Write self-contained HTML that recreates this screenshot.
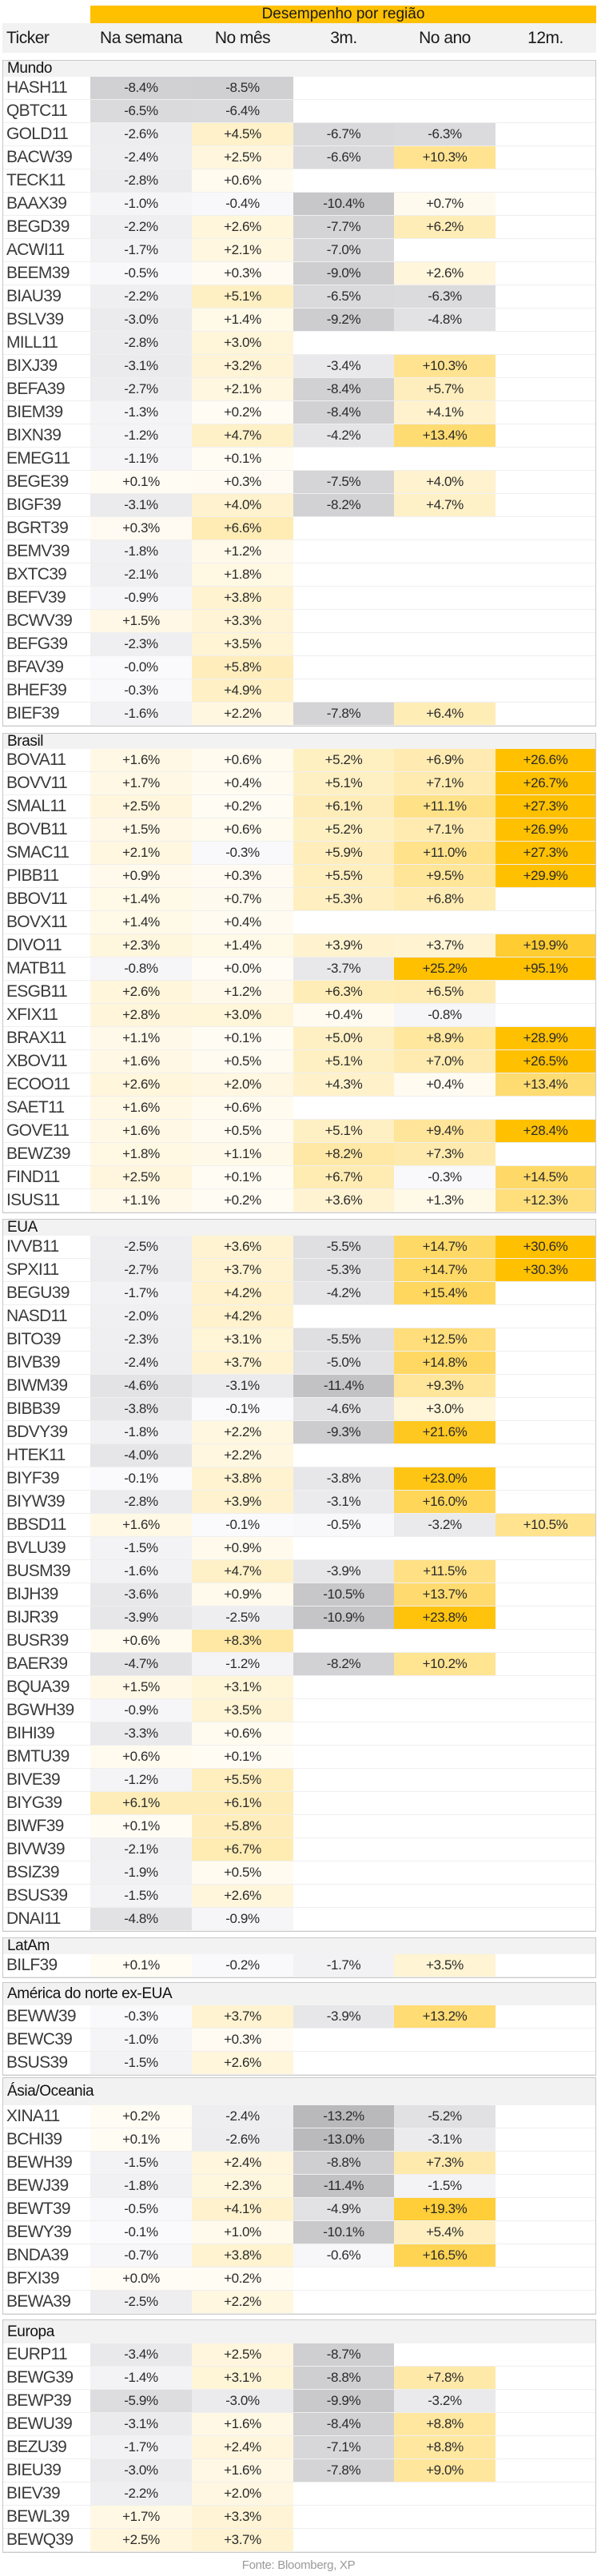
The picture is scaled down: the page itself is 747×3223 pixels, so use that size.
<!DOCTYPE html>
<html><head><meta charset="utf-8">
<style>
*{margin:0;padding:0;box-sizing:border-box}
html,body{width:747px;height:3223px;background:#fff;overflow:hidden}
body{position:relative;font-family:"Liberation Sans",Arial,sans-serif;color:#222}
#ybar{position:absolute;left:113px;top:7px;width:633px;height:22px;background:#FFC000;text-align:center;font-size:19px;line-height:22px;color:#1a1a1a}
#hdr{position:absolute;left:3px;top:29px;width:743px;height:37px;background:#f2f2f2;display:flex;font-size:21px;line-height:37px;color:#1a1a1a;letter-spacing:-0.5px}
#hdr span{display:block;text-align:center}
.s{position:absolute;left:3px;width:743px;border:1px solid #c8c8c8;background:#efefef}
.h{background:#f2f2f2;font-size:19px;padding-left:5px;color:#111;letter-spacing:-0.4px;display:flex;align-items:center}
.r{display:flex;height:29px}
.r b,.r i{display:block;height:28px;line-height:28px;background:#fff;font-style:normal;font-weight:normal}
.r b{width:109px;padding-left:4px;font-size:21px;color:#3a3a3a;letter-spacing:-0.7px}
.r i{width:127px;text-align:center;font-size:17px;color:#2a2a2a;letter-spacing:-0.4px}
.r i:nth-child(4){width:126px}
.r i:nth-child(6){width:125px}
#fonte{position:absolute;left:0;width:747px;top:3201px;text-align:center;font-size:15px;color:#9a9a9a;letter-spacing:-0.3px}
</style></head><body>
<div id="ybar">Desempenho por região</div>
<div id="hdr"><span style="width:110px;text-align:left;padding-left:5px">Ticker</span><span style="width:127px">Na semana</span><span style="width:127px">No mês</span><span style="width:126px">3m.</span><span style="width:127px">No ano</span><span style="width:125px">12m.</span></div>

<div class="s" style="top:75px"><div class="h" style="height:20px">Mundo</div>
<div class="r"><b>HASH11</b><i>-8.4%</i><i>-8.5%</i><i></i><i></i><i></i></div>
<div class="r"><b>QBTC11</b><i>-6.5%</i><i>-6.4%</i><i></i><i></i><i></i></div>
<div class="r"><b>GOLD11</b><i>-2.6%</i><i>+4.5%</i><i>-6.7%</i><i>-6.3%</i><i></i></div>
<div class="r"><b>BACW39</b><i>-2.4%</i><i>+2.5%</i><i>-6.6%</i><i>+10.3%</i><i></i></div>
<div class="r"><b>TECK11</b><i>-2.8%</i><i>+0.6%</i><i></i><i></i><i></i></div>
<div class="r"><b>BAAX39</b><i>-1.0%</i><i>-0.4%</i><i>-10.4%</i><i>+0.7%</i><i></i></div>
<div class="r"><b>BEGD39</b><i>-2.2%</i><i>+2.6%</i><i>-7.7%</i><i>+6.2%</i><i></i></div>
<div class="r"><b>ACWI11</b><i>-1.7%</i><i>+2.1%</i><i>-7.0%</i><i></i><i></i></div>
<div class="r"><b>BEEM39</b><i>-0.5%</i><i>+0.3%</i><i>-9.0%</i><i>+2.6%</i><i></i></div>
<div class="r"><b>BIAU39</b><i>-2.2%</i><i>+5.1%</i><i>-6.5%</i><i>-6.3%</i><i></i></div>
<div class="r"><b>BSLV39</b><i>-3.0%</i><i>+1.4%</i><i>-9.2%</i><i>-4.8%</i><i></i></div>
<div class="r"><b>MILL11</b><i>-2.8%</i><i>+3.0%</i><i></i><i></i><i></i></div>
<div class="r"><b>BIXJ39</b><i>-3.1%</i><i>+3.2%</i><i>-3.4%</i><i>+10.3%</i><i></i></div>
<div class="r"><b>BEFA39</b><i>-2.7%</i><i>+2.1%</i><i>-8.4%</i><i>+5.7%</i><i></i></div>
<div class="r"><b>BIEM39</b><i>-1.3%</i><i>+0.2%</i><i>-8.4%</i><i>+4.1%</i><i></i></div>
<div class="r"><b>BIXN39</b><i>-1.2%</i><i>+4.7%</i><i>-4.2%</i><i>+13.4%</i><i></i></div>
<div class="r"><b>EMEG11</b><i>-1.1%</i><i>+0.1%</i><i></i><i></i><i></i></div>
<div class="r"><b>BEGE39</b><i>+0.1%</i><i>+0.3%</i><i>-7.5%</i><i>+4.0%</i><i></i></div>
<div class="r"><b>BIGF39</b><i>-3.1%</i><i>+4.0%</i><i>-8.2%</i><i>+4.7%</i><i></i></div>
<div class="r"><b>BGRT39</b><i>+0.3%</i><i>+6.6%</i><i></i><i></i><i></i></div>
<div class="r"><b>BEMV39</b><i>-1.8%</i><i>+1.2%</i><i></i><i></i><i></i></div>
<div class="r"><b>BXTC39</b><i>-2.1%</i><i>+1.8%</i><i></i><i></i><i></i></div>
<div class="r"><b>BEFV39</b><i>-0.9%</i><i>+3.8%</i><i></i><i></i><i></i></div>
<div class="r"><b>BCWV39</b><i>+1.5%</i><i>+3.3%</i><i></i><i></i><i></i></div>
<div class="r"><b>BEFG39</b><i>-2.3%</i><i>+3.5%</i><i></i><i></i><i></i></div>
<div class="r"><b>BFAV39</b><i>-0.0%</i><i>+5.8%</i><i></i><i></i><i></i></div>
<div class="r"><b>BHEF39</b><i>-0.3%</i><i>+4.9%</i><i></i><i></i><i></i></div>
<div class="r"><b>BIEF39</b><i>-1.6%</i><i>+2.2%</i><i>-7.8%</i><i>+6.4%</i><i></i></div>
</div>

<div class="s" style="top:917px"><div class="h" style="height:19px">Brasil</div>
<div class="r"><b>BOVA11</b><i>+1.6%</i><i>+0.6%</i><i>+5.2%</i><i>+6.9%</i><i>+26.6%</i></div>
<div class="r"><b>BOVV11</b><i>+1.7%</i><i>+0.4%</i><i>+5.1%</i><i>+7.1%</i><i>+26.7%</i></div>
<div class="r"><b>SMAL11</b><i>+2.5%</i><i>+0.2%</i><i>+6.1%</i><i>+11.1%</i><i>+27.3%</i></div>
<div class="r"><b>BOVB11</b><i>+1.5%</i><i>+0.6%</i><i>+5.2%</i><i>+7.1%</i><i>+26.9%</i></div>
<div class="r"><b>SMAC11</b><i>+2.1%</i><i>-0.3%</i><i>+5.9%</i><i>+11.0%</i><i>+27.3%</i></div>
<div class="r"><b>PIBB11</b><i>+0.9%</i><i>+0.3%</i><i>+5.5%</i><i>+9.5%</i><i>+29.9%</i></div>
<div class="r"><b>BBOV11</b><i>+1.4%</i><i>+0.7%</i><i>+5.3%</i><i>+6.8%</i><i></i></div>
<div class="r"><b>BOVX11</b><i>+1.4%</i><i>+0.4%</i><i></i><i></i><i></i></div>
<div class="r"><b>DIVO11</b><i>+2.3%</i><i>+1.4%</i><i>+3.9%</i><i>+3.7%</i><i>+19.9%</i></div>
<div class="r"><b>MATB11</b><i>-0.8%</i><i>+0.0%</i><i>-3.7%</i><i>+25.2%</i><i>+95.1%</i></div>
<div class="r"><b>ESGB11</b><i>+2.6%</i><i>+1.2%</i><i>+6.3%</i><i>+6.5%</i><i></i></div>
<div class="r"><b>XFIX11</b><i>+2.8%</i><i>+3.0%</i><i>+0.4%</i><i>-0.8%</i><i></i></div>
<div class="r"><b>BRAX11</b><i>+1.1%</i><i>+0.1%</i><i>+5.0%</i><i>+8.9%</i><i>+28.9%</i></div>
<div class="r"><b>XBOV11</b><i>+1.6%</i><i>+0.5%</i><i>+5.1%</i><i>+7.0%</i><i>+26.5%</i></div>
<div class="r"><b>ECOO11</b><i>+2.6%</i><i>+2.0%</i><i>+4.3%</i><i>+0.4%</i><i>+13.4%</i></div>
<div class="r"><b>SAET11</b><i>+1.6%</i><i>+0.6%</i><i></i><i></i><i></i></div>
<div class="r"><b>GOVE11</b><i>+1.6%</i><i>+0.5%</i><i>+5.1%</i><i>+9.4%</i><i>+28.4%</i></div>
<div class="r"><b>BEWZ39</b><i>+1.8%</i><i>+1.1%</i><i>+8.2%</i><i>+7.3%</i><i></i></div>
<div class="r"><b>FIND11</b><i>+2.5%</i><i>+0.1%</i><i>+6.7%</i><i>-0.3%</i><i>+14.5%</i></div>
<div class="r"><b>ISUS11</b><i>+1.1%</i><i>+0.2%</i><i>+3.6%</i><i>+1.3%</i><i>+12.3%</i></div>
</div>

<div class="s" style="top:1525px"><div class="h" style="height:20px">EUA</div>
<div class="r"><b>IVVB11</b><i>-2.5%</i><i>+3.6%</i><i>-5.5%</i><i>+14.7%</i><i>+30.6%</i></div>
<div class="r"><b>SPXI11</b><i>-2.7%</i><i>+3.7%</i><i>-5.3%</i><i>+14.7%</i><i>+30.3%</i></div>
<div class="r"><b>BEGU39</b><i>-1.7%</i><i>+4.2%</i><i>-4.2%</i><i>+15.4%</i><i></i></div>
<div class="r"><b>NASD11</b><i>-2.0%</i><i>+4.2%</i><i></i><i></i><i></i></div>
<div class="r"><b>BITO39</b><i>-2.3%</i><i>+3.1%</i><i>-5.5%</i><i>+12.5%</i><i></i></div>
<div class="r"><b>BIVB39</b><i>-2.4%</i><i>+3.7%</i><i>-5.0%</i><i>+14.8%</i><i></i></div>
<div class="r"><b>BIWM39</b><i>-4.6%</i><i>-3.1%</i><i>-11.4%</i><i>+9.3%</i><i></i></div>
<div class="r"><b>BIBB39</b><i>-3.8%</i><i>-0.1%</i><i>-4.6%</i><i>+3.0%</i><i></i></div>
<div class="r"><b>BDVY39</b><i>-1.8%</i><i>+2.2%</i><i>-9.3%</i><i>+21.6%</i><i></i></div>
<div class="r"><b>HTEK11</b><i>-4.0%</i><i>+2.2%</i><i></i><i></i><i></i></div>
<div class="r"><b>BIYF39</b><i>-0.1%</i><i>+3.8%</i><i>-3.8%</i><i>+23.0%</i><i></i></div>
<div class="r"><b>BIYW39</b><i>-2.8%</i><i>+3.9%</i><i>-3.1%</i><i>+16.0%</i><i></i></div>
<div class="r"><b>BBSD11</b><i>+1.6%</i><i>-0.1%</i><i>-0.5%</i><i>-3.2%</i><i>+10.5%</i></div>
<div class="r"><b>BVLU39</b><i>-1.5%</i><i>+0.9%</i><i></i><i></i><i></i></div>
<div class="r"><b>BUSM39</b><i>-1.6%</i><i>+4.7%</i><i>-3.9%</i><i>+11.5%</i><i></i></div>
<div class="r"><b>BIJH39</b><i>-3.6%</i><i>+0.9%</i><i>-10.5%</i><i>+13.7%</i><i></i></div>
<div class="r"><b>BIJR39</b><i>-3.9%</i><i>-2.5%</i><i>-10.9%</i><i>+23.8%</i><i></i></div>
<div class="r"><b>BUSR39</b><i>+0.6%</i><i>+8.3%</i><i></i><i></i><i></i></div>
<div class="r"><b>BAER39</b><i>-4.7%</i><i>-1.2%</i><i>-8.2%</i><i>+10.2%</i><i></i></div>
<div class="r"><b>BQUA39</b><i>+1.5%</i><i>+3.1%</i><i></i><i></i><i></i></div>
<div class="r"><b>BGWH39</b><i>-0.9%</i><i>+3.5%</i><i></i><i></i><i></i></div>
<div class="r"><b>BIHI39</b><i>-3.3%</i><i>+0.6%</i><i></i><i></i><i></i></div>
<div class="r"><b>BMTU39</b><i>+0.6%</i><i>+0.1%</i><i></i><i></i><i></i></div>
<div class="r"><b>BIVE39</b><i>-1.2%</i><i>+5.5%</i><i></i><i></i><i></i></div>
<div class="r"><b>BIYG39</b><i>+6.1%</i><i>+6.1%</i><i></i><i></i><i></i></div>
<div class="r"><b>BIWF39</b><i>+0.1%</i><i>+5.8%</i><i></i><i></i><i></i></div>
<div class="r"><b>BIVW39</b><i>-2.1%</i><i>+6.7%</i><i></i><i></i><i></i></div>
<div class="r"><b>BSIZ39</b><i>-1.9%</i><i>+0.5%</i><i></i><i></i><i></i></div>
<div class="r"><b>BSUS39</b><i>-1.5%</i><i>+2.6%</i><i></i><i></i><i></i></div>
<div class="r"><b>DNAI11</b><i>-4.8%</i><i>-0.9%</i><i></i><i></i><i></i></div>
</div>

<div class="s" style="top:2424px"><div class="h" style="height:20px">LatAm</div>
<div class="r"><b>BILF39</b><i>+0.1%</i><i>-0.2%</i><i>-1.7%</i><i>+3.5%</i><i></i></div>
</div>

<div class="s" style="top:2480px"><div class="h" style="height:28px">América do norte ex-EUA</div>
<div class="r"><b>BEWW39</b><i>-0.3%</i><i>+3.7%</i><i>-3.9%</i><i>+13.2%</i><i></i></div>
<div class="r"><b>BEWC39</b><i>-1.0%</i><i>+0.3%</i><i></i><i></i><i></i></div>
<div class="r"><b>BSUS39</b><i>-1.5%</i><i>+2.6%</i><i></i><i></i><i></i></div>
</div>

<div class="s" style="top:2599px"><div class="h" style="height:34px">Ásia/Oceania</div>
<div class="r"><b>XINA11</b><i>+0.2%</i><i>-2.4%</i><i>-13.2%</i><i>-5.2%</i><i></i></div>
<div class="r"><b>BCHI39</b><i>+0.1%</i><i>-2.6%</i><i>-13.0%</i><i>-3.1%</i><i></i></div>
<div class="r"><b>BEWH39</b><i>-1.5%</i><i>+2.4%</i><i>-8.8%</i><i>+7.3%</i><i></i></div>
<div class="r"><b>BEWJ39</b><i>-1.8%</i><i>+2.3%</i><i>-11.4%</i><i>-1.5%</i><i></i></div>
<div class="r"><b>BEWT39</b><i>-0.5%</i><i>+4.1%</i><i>-4.9%</i><i>+19.3%</i><i></i></div>
<div class="r"><b>BEWY39</b><i>-0.1%</i><i>+1.0%</i><i>-10.1%</i><i>+5.4%</i><i></i></div>
<div class="r"><b>BNDA39</b><i>-0.7%</i><i>+3.8%</i><i>-0.6%</i><i>+16.5%</i><i></i></div>
<div class="r"><b>BFXI39</b><i>+0.0%</i><i>+0.2%</i><i></i><i></i><i></i></div>
<div class="r"><b>BEWA39</b><i>-2.5%</i><i>+2.2%</i><i></i><i></i><i></i></div>
</div>

<div class="s" style="top:2902px"><div class="h" style="height:29px">Europa</div>
<div class="r"><b>EURP11</b><i>-3.4%</i><i>+2.5%</i><i>-8.7%</i><i></i><i></i></div>
<div class="r"><b>BEWG39</b><i>-1.4%</i><i>+3.1%</i><i>-8.8%</i><i>+7.8%</i><i></i></div>
<div class="r"><b>BEWP39</b><i>-5.9%</i><i>-3.0%</i><i>-9.9%</i><i>-3.2%</i><i></i></div>
<div class="r"><b>BEWU39</b><i>-3.1%</i><i>+1.6%</i><i>-8.4%</i><i>+8.8%</i><i></i></div>
<div class="r"><b>BEZU39</b><i>-1.7%</i><i>+2.4%</i><i>-7.1%</i><i>+8.8%</i><i></i></div>
<div class="r"><b>BIEU39</b><i>-3.0%</i><i>+1.6%</i><i>-7.8%</i><i>+9.0%</i><i></i></div>
<div class="r"><b>BIEV39</b><i>-2.2%</i><i>+2.0%</i><i></i><i></i><i></i></div>
<div class="r"><b>BEWL39</b><i>+1.7%</i><i>+3.3%</i><i></i><i></i><i></i></div>
<div class="r"><b>BEWQ39</b><i>+2.5%</i><i>+3.7%</i><i></i><i></i><i></i></div>
</div>

<div id="fonte">Fonte: Bloomberg, XP</div>

<script>
document.querySelectorAll('.r i').forEach(function(c){
  var t=c.textContent.trim(); if(!t) return;
  var v=parseFloat(t);
  if(t.charAt(0)==='-'){
    var g=Math.round(Math.max(182,250-4.9*Math.abs(v)));
    c.style.background='rgb('+g+','+g+','+Math.min(255,g+2)+')';
  } else {
    var k=Math.min(v/25,1);
    var G=Math.round(252-60*k), B=Math.round(245-245*k);
    c.style.background='rgb(255,'+G+','+B+')';
  }
});
</script>
</body></html>
